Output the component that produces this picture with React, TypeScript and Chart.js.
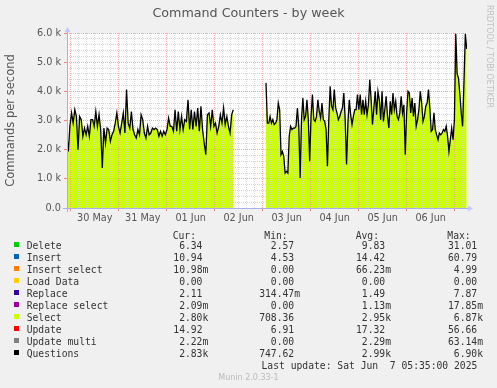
import React, { useEffect, useRef } from 'react';
import { Chart, registerables } from 'chart.js';

const plotBgPlugin = {
  id: 'plotBg',
  beforeDraw(chart: any) {
    const { ctx, chartArea: a } = chart;
    if (!a) return;
    ctx.save();
    ctx.fillStyle = '#ffffff';
    ctx.fillRect(a.left, a.top, a.right - a.left, a.bottom - a.top);
    ctx.restore();
  },
};
// registered before the filler so the white plot background is painted first
Chart.register(plotBgPlugin);
Chart.register(...registerables);

const TITLE = 'Command Counters - by week';
const Y_TITLE = 'Commands per second';
const SIDE_TEXT = 'RRDTOOL / TOBI OETIKER';
const LAST_UPDATE = 'Last update: Sat Jun  7 05:35:00 2025';
const VERSION = 'Munin 2.0.33-1';

// x axis: hours relative to 30 May 00:00
const xMinHour = -1.85;
const xMaxHour = 198.15;
const dayLabels = ['30 May', '31 May', '01 Jun', '02 Jun', '03 Jun', '04 Jun', '05 Jun', '06 Jun'];
const yTickLabels = ['0.0', '1.0 k', '2.0 k', '3.0 k', '4.0 k', '5.0 k', '6.0 k'];

// Questions / Select (stack top), thousands per second
const seg1StartHour = -2.0;
const seg1EndHour = 81.3;
const questionsSeg1 = [
  2.51, 1.94, 2.82, 3.26, 2.91, 3.37, 3.14, 2.0, 3.14, 3.03,
  2.46, 2.74, 2.51, 2.8, 2.46, 3.03, 3.03, 2.8, 3.31, 2.8,
  3.2, 2.69, 1.37, 2.74, 2.23, 2.74, 2.69, 2.29, 2.51, 2.63,
  2.91, 3.26, 2.8, 2.57, 2.91, 3.26, 2.57, 4.06, 2.91, 2.74,
  3.31, 2.69, 2.51, 2.4, 2.69, 2.51, 3.2, 3.03, 2.57, 2.4,
  2.8, 2.51, 2.57, 2.74, 2.69, 2.74, 2.69, 2.46, 2.63, 2.46,
  2.63, 2.51, 2.69, 3.09, 2.8, 2.8, 2.63, 3.37, 2.63, 3.31,
  2.69, 3.14, 2.69, 3.03, 2.97, 3.71, 2.69, 3.37, 2.69, 3.31,
  2.8, 3.43, 2.63, 3.49, 2.69, 2.23, 1.83, 3.2, 3.26, 2.8,
  3.37, 2.8, 2.91, 2.57, 2.8, 3.2, 2.91, 3.43, 2.86, 3.14,
  2.8, 2.57, 3.2, 3.37,
];

const seg2StartHour = 97.65;
const seg2EndHour = 198.0;
const questionsSeg2 = [
  4.29, 2.91, 2.91, 3.14, 2.91, 3.03, 2.86, 2.91, 3.03, 3.6,
  3.37, 1.83, 1.94, 1.77, 1.2, 1.26, 1.2, 2.46, 2.8, 2.69,
  2.74, 2.74, 2.8, 3.43, 2.8, 1.03, 3.03, 3.77, 3.03, 3.14,
  3.71, 3.03, 1.6, 3.14, 3.89, 3.03, 2.97, 3.14, 3.71, 3.31,
  3.09, 3.6, 3.03, 2.97, 2.69, 1.43, 3.03, 4.17, 3.49, 3.37,
  4.06, 3.43, 3.26, 3.03, 3.14, 3.31, 3.43, 3.94, 3.03, 1.49,
  2.91, 3.71, 3.2, 2.86, 3.14, 3.37, 3.37, 3.89, 3.37, 3.89,
  3.2, 3.71, 3.2, 3.66, 3.2, 3.54, 4.4, 3.71, 2.86, 3.43,
  4.0, 3.2, 4.0, 3.71, 3.03, 4.0, 2.97, 3.37, 3.83, 3.14,
  2.74, 3.66, 3.2, 3.94, 3.37, 3.66, 3.14, 3.03, 3.26, 3.83,
  3.26, 3.54, 1.83, 3.26, 4.0, 3.94, 3.26, 3.77, 3.14, 3.6,
  2.8, 3.03, 3.37, 4.0, 3.6, 2.97, 3.14, 3.49, 3.6, 4.06,
  3.43, 2.63, 2.69, 3.26, 2.69, 2.51, 2.34, 2.57, 2.51, 2.57,
  2.69, 2.63, 2.8, 2.46, 1.94, 2.34, 2.74, 2.34, 3.03, 5.97,
  4.6, 4.45, 3.9, 3.25, 2.8, 4.3, 5.97, 5.45,
];

const seriesNames = ['Delete', 'Insert', 'Insert select', 'Load Data', 'Replace', 'Replace select', 'Select', 'Update', 'Update multi', 'Questions'];
const seriesColors = ['#00CC00', '#0066B3', '#FF8000', '#FFCC00', '#330099', '#990099', '#CCFF00', '#FF0000', '#808080', '#000000'];
const curVals = ['6.34 ', '10.94 ', '10.98m', '0.00 ', '2.11 ', '2.09m', '2.80k', '14.92 ', '2.22m', '2.83k'];
const minVals = ['2.57 ', '4.53 ', '0.00 ', '0.00 ', '314.47m', '0.00 ', '708.36 ', '6.91 ', '0.00 ', '747.62 '];
const avgVals = ['9.83 ', '14.42 ', '66.23m', '0.00 ', '1.49 ', '1.13m', '2.95k', '17.32 ', '2.29m', '2.99k'];
const maxVals = ['31.01 ', '60.79 ', '4.99 ', '0.00 ', '7.87 ', '17.85m', '6.87k', '56.66 ', '63.14m', '6.90k'];
const colHeaders = ['Cur:', 'Min:', 'Avg:', 'Max:'];

const MAJOR = '#f4a8a8';
const MINOR = '#d4d4d4';
const AXIS = '#a8b0e8';
const TEXT = '#555555';

function buildPoints() {
  const pts: { x: number; y: number | null }[] = [];
  const n1 = questionsSeg1.length;
  questionsSeg1.forEach((v, i) => {
    pts.push({ x: seg1StartHour + ((seg1EndHour - seg1StartHour) * i) / (n1 - 1), y: v * 1000 });
  });
  pts.push({ x: (seg1EndHour + seg2StartHour) / 2, y: null });
  const n2 = questionsSeg2.length;
  questionsSeg2.forEach((v, i) => {
    pts.push({ x: seg2StartHour + ((seg2EndHour - seg2StartHour) * i) / (n2 - 1), y: v * 1000 });
  });
  return pts;
}

const axesPlugin = {
  id: 'rrdAxes',
  afterDraw(chart: any) {
    const { ctx, chartArea: a } = chart;
    const yb = Math.round(a.bottom) + 0.5;
    const xl = Math.round(a.left) + 0.5;
    ctx.save();
    ctx.strokeStyle = AXIS;
    ctx.fillStyle = AXIS;
    ctx.lineWidth = 1;
    ctx.beginPath();
    ctx.moveTo(a.left - 4, yb);
    ctx.lineTo(a.right + 2, yb);
    ctx.moveTo(xl, a.bottom + 4);
    ctx.lineTo(xl, a.top - 2);
    ctx.stroke();
    ctx.fillStyle = '#c4c8ff';
    ctx.beginPath();
    ctx.moveTo(a.right + 6, yb);
    ctx.lineTo(a.right + 1, yb - 3);
    ctx.lineTo(a.right + 1, yb + 3);
    ctx.closePath();
    ctx.fill();
    ctx.beginPath();
    ctx.moveTo(xl, a.top - 6);
    ctx.lineTo(xl - 3, a.top - 1);
    ctx.lineTo(xl + 3, a.top - 1);
    ctx.closePath();
    ctx.fill();
    ctx.restore();
  },
};

function ChartCanvas() {
  const ref = useRef<HTMLCanvasElement | null>(null);
  useEffect(() => {
    if (!ref.current) return;
    const pts = buildPoints();
    const xTicks: number[] = [];
    for (let h = 0; h <= xMaxHour; h += 4) xTicks.push(h);
    const yTicks: number[] = [];
    for (let v = 0; v <= 6000; v += 200) yTicks.push(v);

    const chart = new Chart(ref.current, {
      type: 'line',
      data: {
        datasets: [
          {
            label: 'Questions',
            data: pts as any,
            borderColor: '#000000',
            borderWidth: 1.3,
            pointRadius: 0,
            fill: false,
            tension: 0,
            spanGaps: false,
          },
          {
            label: 'Select',
            data: pts as any,
            borderWidth: 0,
            borderColor: 'rgba(0,0,0,0)',
            backgroundColor: '#ccff00',
            pointRadius: 0,
            fill: 'origin',
            tension: 0,
            spanGaps: false,
          },
        ],
      },
      options: {
        animation: false,
        responsive: false,
        devicePixelRatio: 1,
        layout: { padding: { top: 33, right: 30, bottom: 158, left: 0 } },
        plugins: {
          legend: { display: false },
          tooltip: { enabled: false },
          title: { display: false },
          filler: { drawTime: 'beforeDraw' },
        } as any,
        scales: {
          x: {
            type: 'linear',
            min: xMinHour,
            max: xMaxHour,
            afterBuildTicks: (s: any) => {
              s.ticks = xTicks.map((v) => ({ value: v }));
            },
            afterFit: (s: any) => {
              s.height = 22;
            },
            ticks: {
              autoSkip: false,
              maxRotation: 0,
              padding: 2,
              color: TEXT,
              font: { family: 'DejaVu Sans', size: 9.7 },
              callback: (v: any) => (Number(v) % 24 === 12 ? dayLabels[(Number(v) - 12) / 24] : ''),
            },
            grid: {
              lineWidth: 1,
              color: (c: any) => (c.tick && c.tick.value % 24 === 0 ? MAJOR : MINOR),
              tickColor: (c: any) => (c.tick && c.tick.value % 24 === 0 ? '#f08080' : 'rgba(0,0,0,0)'),
              tickLength: 3,
            },
            border: { display: false, dash: [1, 1] },
          },
          y: {
            min: 0,
            max: 6000,
            afterBuildTicks: (s: any) => {
              s.ticks = yTicks.map((v) => ({ value: v }));
            },
            afterFit: (s: any) => {
              s.width = 67;
            },
            ticks: {
              autoSkip: false,
              padding: 3,
              color: TEXT,
              font: { family: 'DejaVu Sans', size: 9.7 },
              callback: (v: any) => (Number(v) % 1000 === 0 ? yTickLabels[Number(v) / 1000] : ''),
            },
            grid: {
              lineWidth: 1,
              color: (c: any) => (c.tick && c.tick.value % 1000 === 0 ? MAJOR : MINOR),
              tickColor: (c: any) => (c.tick && c.tick.value % 1000 === 0 ? '#f08080' : 'rgba(0,0,0,0)'),
              tickLength: 3,
            },
            border: { display: false, dash: [1, 1] },
            title: {
              display: true,
              text: Y_TITLE,
              color: TEXT,
              font: { family: 'DejaVu Sans', size: 11.5 },
              padding: { top: 4.5, bottom: 0 },
            },
          },
        },
      },
      plugins: [axesPlugin],
    });
    return () => chart.destroy();
  }, []);
  return <canvas ref={ref} width={497} height={388} style={{ position: 'absolute', left: 0, top: 0 }} />;
}

const mono: React.CSSProperties = {
  position: 'absolute',
  fontFamily: 'DejaVu Sans Mono',
  fontSize: '9.7px',
  lineHeight: '12px',
  whiteSpace: 'pre',
  color: '#333333',
};

const colRights = [208.3, 300, 391, 483];
const headerLefts = [172.7, 264.3, 355.7, 447.3];

export default function App() {
  const rowBase = 249.2;
  return (
    <div style={{ position: 'absolute', left: 0, top: 0, width: 497, height: 388, background: '#f0f0f0', overflow: 'hidden' }}>
      <ChartCanvas />
      <div
        style={{
          position: 'absolute', left: 0, width: 497, top: 5.2, textAlign: 'center',
          fontFamily: 'DejaVu Sans', fontSize: '12.7px', lineHeight: '16px', color: TEXT,
        }}
      >
        {TITLE}
      </div>
      <div
        style={{
          position: 'absolute', left: 484, top: 5, writingMode: 'vertical-rl',
          fontFamily: 'DejaVu Sans', fontSize: '8px', lineHeight: '10px', color: '#c0c0c0', whiteSpace: 'nowrap',
        }}
      >
        {SIDE_TEXT}
      </div>
      {colHeaders.map((h, i) => (
        <div key={h} style={{ ...mono, left: headerLefts[i], top: 239.6 - 9.36 }}>{h}</div>
      ))}
      {seriesNames.map((name, i) => {
        const top = rowBase + i * 12 - 9.36;
        const vals = [curVals[i], minVals[i], avgVals[i], maxVals[i]];
        return (
          <React.Fragment key={name}>
            <div style={{ position: 'absolute', left: 14, top: rowBase + i * 12 - 6.8, width: 5, height: 5, background: seriesColors[i] }} />
            <div style={{ ...mono, left: 26.7, top }}>{name}</div>
            {vals.map((v, j) => (
              <div key={j} style={{ ...mono, left: colRights[j] - 80, width: 80, textAlign: 'right', top }}>{v}</div>
            ))}
          </React.Fragment>
        );
      })}
      <div style={{ ...mono, left: 261.5, top: rowBase + 120 - 9.36 }}>{LAST_UPDATE}</div>
      <div
        style={{
          position: 'absolute', left: 0, width: 497, textAlign: 'center', top: 372.7,
          fontFamily: 'DejaVu Sans', fontSize: '8px', lineHeight: '10px', color: '#bbbbbb',
        }}
      >
        {VERSION}
      </div>
    </div>
  );
}
